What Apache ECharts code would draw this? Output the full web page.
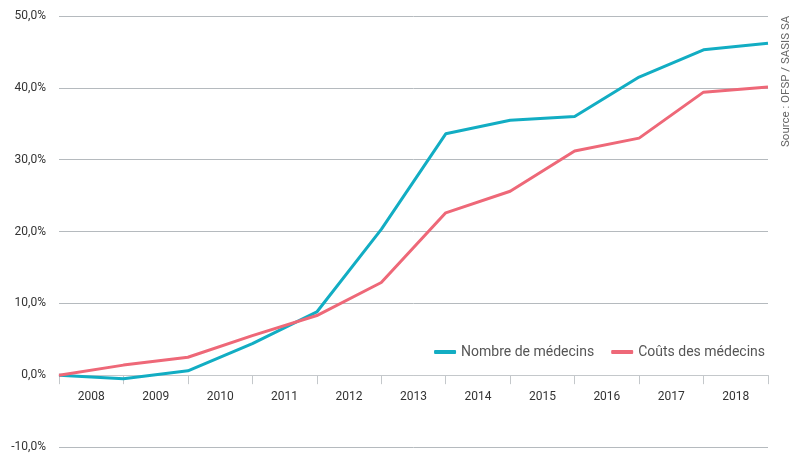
<!DOCTYPE html>
<html lang="fr">
<head>
<meta charset="UTF-8">
<title>Médecins</title>
<style>
    html, body { margin: 0; padding: 0; background: #fff; }
    #echart { width: 790px; height: 453px; }
</style>
</head>
<body>
<div id="echart"></div>
<script src="https://cdn.jsdelivr.net/npm/echarts@6/dist/echarts.min.js"></script>
<script>
    // années (étiquettes entre les graduations)
    const years = ['2008', '2009', '2010', '2011', '2012', '2013', '2014', '2015', '2016', '2017', '2018']
    // évolution en % depuis 2008 (12 points, un par graduation)
    const nombreMedecins = [0, -0.5, 0.6, 4.4, 8.8, 20.3, 33.6, 35.5, 36.0, 41.5, 45.3, 46.2]
    const coutsMedecins = [0, 1.4, 2.5, 5.5, 8.3, 12.9, 22.6, 25.6, 31.2, 33.0, 39.4, 40.1]
    const yTicks = [-10, 0, 10, 20, 30, 40, 50]

    const teal = '#12adc3'
    const pink = '#ee6878'
    const font = 'Roboto, "Noto Sans", sans-serif'

    const gridTop = 16
    const gridBottom = 6
    const plotH = 453 - gridTop - gridBottom
    // une graduation par point, la dernière sans étiquette
    const ticks = years.concat([''])
    const band = (790 - 59 - 22) / (ticks.length - 1)
    // l'axe des x est remonté au niveau du 0 %
    const zeroShift = plotH * (0 - yTicks[0]) / (yTicks[yTicks.length - 1] - yTicks[0])

    const echart = echarts.init(document.getElementById('echart'))

    echart.setOption({
        animation: false,
        textStyle: { fontFamily: font },
        grid: { left: 59, right: 22, top: gridTop, bottom: gridBottom, containLabel: false, outerBoundsMode: 'none' },
        legend: {
            right: 20,
            top: 340,
            itemWidth: 22,
            itemHeight: 4,
            itemGap: 17,
            icon: 'roundRect',
            textStyle: { color: '#555', fontSize: 14, fontFamily: font },
            data: ['Nombre de médecins', 'Coûts des médecins']
        },
        xAxis: {
            type: 'category',
            data: ticks,
            boundaryGap: false,
            position: 'bottom',
            offset: -zeroShift,
            axisLine: { onZero: false, lineStyle: { color: '#c4c8cb', width: 1 } },
            axisTick: { show: true, interval: 0, length: 9, lineStyle: { color: '#c4c8cb' } },
            axisLabel: {
                color: '#333',
                fontSize: 12,
                margin: 16,
                interval: 0,
                fontFamily: font,
                // décale l'étiquette d'une demi-case vers la droite
                padding: [0, 0, 0, band]
            },
            splitLine: { show: false }
        },
        yAxis: {
            type: 'value',
            min: yTicks[0],
            max: yTicks[yTicks.length - 1],
            interval: 10,
            axisLine: { show: false },
            axisTick: { show: false },
            axisLabel: {
                color: '#333',
                fontSize: 12,
                margin: 13,
                fontFamily: font,
                formatter: v => v.toFixed(1).replace('.', ',') + '%'
            },
            splitLine: { lineStyle: { color: '#b5babe', width: 1 } }
        },
        series: [{
            name: 'Nombre de médecins',
            type: 'line',
            data: nombreMedecins,
            symbol: 'none',
            itemStyle: { color: teal },
            lineStyle: { color: teal, width: 3 }
        }, {
            name: 'Coûts des médecins',
            type: 'line',
            data: coutsMedecins,
            symbol: 'none',
            itemStyle: { color: pink },
            lineStyle: { color: pink, width: 3 }
        }],
        graphic: [{
            type: 'text',
            x: 780,
            y: 147,
            rotation: Math.PI / 2,
            style: {
                text: 'Source : OFSP / SASIS SA',
                fill: '#666',
                font: '11.5px ' + font
            }
        }]
    })
</script>
</body>
</html>
